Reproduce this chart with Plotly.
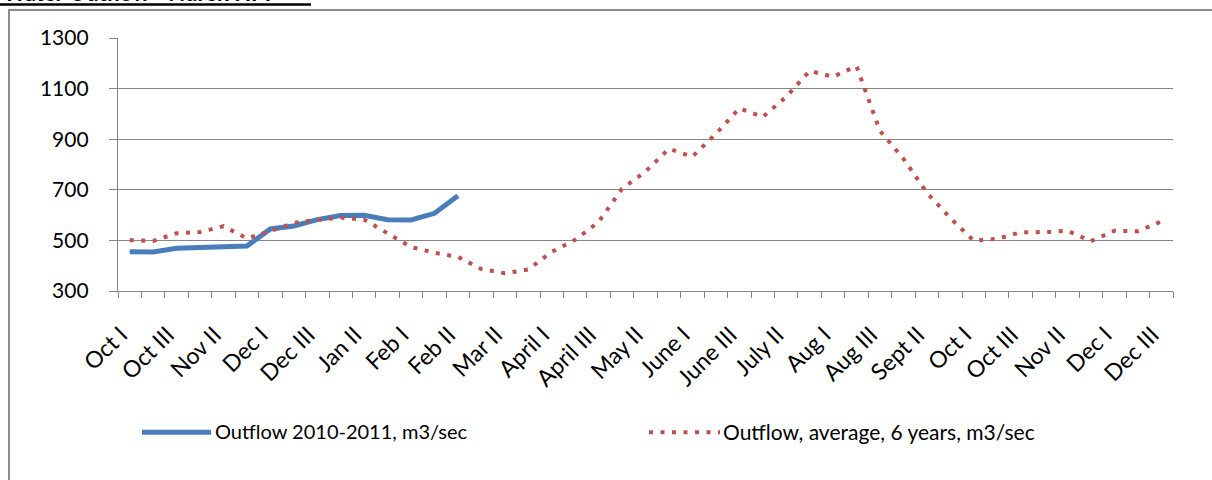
import plotly.graph_objects as go

# ---------------- data ----------------
categories = ["Oct I", "Oct II", "Oct III", "Nov I", "Nov II", "Nov III", "Dec I", "Dec II", "Dec III",
              "Jan I", "Jan II", "Jan III", "Feb I", "Feb II", "Feb III", "Mar I", "Mar II", "Mar III",
              "April I", "April II", "April III", "May I", "May II", "May III", "June I", "June II", "June III",
              "July I", "July II", "July III", "Aug I", "Aug II", "Aug III", "Sept I", "Sept II", "Sept III",
              "Oct I", "Oct II", "Oct III", "Nov I", "Nov II", "Nov III", "Dec I", "Dec II", "Dec III"]

tick_labels = ["Oct I", "Oct III", "Nov II", "Dec I", "Dec III", "Jan II", "Feb I", "Feb II", "Mar II",
               "April I", "April III", "May II", "June I", "June III", "July II", "Aug I", "Aug III",
               "Sept II", "Oct I", "Oct III", "Nov II", "Dec I", "Dec III"]

outflow_2010_2011 = [455, 454, 469, 472, 473, 478, 545, 557, 582, 598, 599, 582, 581, 607, 676]

outflow_average = [501, 498, 528, 533, 556, 508, 537, 569, 581, 590, 582, 527, 474, 451, 435,
                   387, 370, 385, 455, 502, 573, 704, 772, 862, 831, 921, 1022, 988, 1067, 1170,
                   1147, 1189, 933, 823, 689, 588, 499, 506, 532, 533, 538, 497, 538, 536, 575]

series_names = ["Outflow 2010-2011, m3/sec", "Outflow, average, 6 years, m3/sec"]
y_ticks = [300, 500, 700, 900, 1100, 1300]

# ---------------- style ----------------
BLUE = "#4A7EBB"
RED = "#C0504D"
GRID = "#868686"
FONT = "Lato"

W, H = 1212, 480
PL, PR, PT, PB = 118, 1173, 38, 291.5
LABEL_SHIFT = -0.38  # rotated labels sit slightly left of the category centre, as in the source


def px(x):
    return (x - PL) / (PR - PL)


def py(y):
    return (PB - y) / (PB - PT)


x_idx = list(range(len(categories)))

fig = go.Figure()
fig.add_trace(go.Scatter(x=x_idx[:len(outflow_2010_2011)], y=outflow_2010_2011, mode="lines",
                         name=series_names[0], line=dict(color=BLUE, width=5)))
fig.add_trace(go.Scatter(x=x_idx, y=outflow_average, mode="lines", name=series_names[1],
                         line=dict(color=RED, width=4, dash="4px,7.5px")))

fig.update_layout(
    width=W, height=H,
    margin=dict(l=PL, r=W - PR, t=PT, b=H - PB),
    paper_bgcolor="white", plot_bgcolor="white",
    showlegend=False,
    font=dict(family=FONT, size=21, color="black"),
)

fig.update_yaxes(range=[300, 1300], tickvals=y_ticks, showgrid=True, gridcolor=GRID, gridwidth=1.3,
                 showline=True, linecolor=GRID, linewidth=1.3, ticks="outside", ticklen=8,
                 tickcolor=GRID, tickwidth=1.3, zeroline=False, ticklabelstandoff=16,
                 tickfont=dict(family=FONT, size=21, color="black"))

fig.update_xaxes(range=[-0.5, len(categories) - 0.5], tickmode="array",
                 tickvals=[i + LABEL_SHIFT for i in x_idx[::2]], ticktext=tick_labels, tickangle=-45,
                 ticks="", showline=True, linecolor=GRID, linewidth=1.3, showgrid=False, zeroline=False,
                 ticklabelstandoff=20,
                 minor=dict(tickmode="linear", tick0=-0.5, dtick=1, ticks="outside", ticklen=6,
                            tickcolor=GRID, tickwidth=1.3, showgrid=False),
                 tickfont=dict(family=FONT, size=23, color="black"))

shapes = []
annotations = []
# outer chart border
shapes.append(dict(type="rect", xref="paper", yref="paper", x0=px(9), x1=px(1230), y0=py(10), y1=py(500),
                   line=dict(color="#8C8C8C", width=2), fillcolor="rgba(0,0,0,0)", layer="below"))
# title (cut off at the top of the page, as in the source) and its underline
annotations.append(dict(text="<b>Water Outflow - Nurek HPP</b>", xref="paper", yref="paper",
                        x=px(1), y=py(8), xanchor="left", yanchor="bottom", showarrow=False,
                        font=dict(family=FONT, size=22, color="black")))
shapes.append(dict(type="line", xref="paper", yref="paper", x0=px(0), x1=px(311), y0=py(4.5), y1=py(4.5),
                   line=dict(color="black", width=2.5)))
# legend
shapes.append(dict(type="line", xref="paper", yref="paper", x0=px(142), x1=px(211), y0=py(433), y1=py(433),
                   line=dict(color=BLUE, width=5)))
shapes.append(dict(type="line", xref="paper", yref="paper", x0=px(649), x1=px(720), y0=py(433), y1=py(433),
                   line=dict(color=RED, width=4, dash="4px,7.5px")))
annotations.append(dict(text=series_names[0], xref="paper", yref="paper", x=px(213), y=py(432),
                        xanchor="left", yanchor="middle", showarrow=False,
                        font=dict(family=FONT, size=20, color="black")))
annotations.append(dict(text=series_names[1], xref="paper", yref="paper", x=px(721), y=py(432),
                        xanchor="left", yanchor="middle", showarrow=False,
                        font=dict(family=FONT, size=21, color="black")))

fig.update_layout(shapes=shapes, annotations=annotations)

fig.write_html("out.html", config={"displayModeBar": False},
               post_script="document.body.style.margin='0';document.body.style.overflow='hidden';")
